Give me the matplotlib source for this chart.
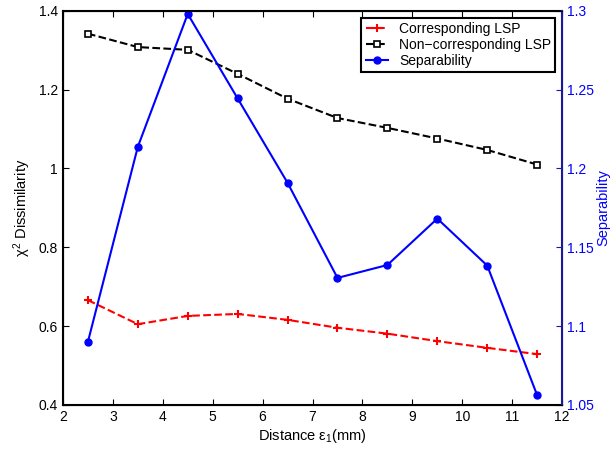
import matplotlib
matplotlib.use("Agg")
from matplotlib import pyplot

pyplot.rcParams['font.family'] = ['Liberation Sans', 'DejaVu Sans']
pyplot.rcParams['font.size'] = 10
pyplot.rcParams['mathtext.fontset'] = 'custom'
pyplot.rcParams['mathtext.rm'] = 'Liberation Sans'
pyplot.rcParams['mathtext.it'] = 'Liberation Sans'

distance = [2.5, 3.5, 4.5, 5.5, 6.5, 7.5, 8.5, 9.5, 10.5, 11.5]
corresponding = [0.666, 0.605, 0.626, 0.631, 0.616, 0.596, 0.581, 0.562, 0.545, 0.529]
non_corresponding = [1.342, 1.308, 1.301, 1.240, 1.177, 1.128, 1.103, 1.076, 1.047, 1.010]
separability = [1.090, 1.2137, 1.298, 1.2444, 1.1909, 1.1306, 1.1388, 1.1682, 1.1384, 1.0562]

AXIS_BLUE = '#1a1a9a'

fig = pyplot.figure(figsize=(6.11, 4.5), dpi=100)
ax1 = fig.add_axes([0.103, 0.1, 0.817, 0.876])
ax2 = ax1.twinx()

l1, = ax1.plot(distance, corresponding, '--', color='red', marker='+', ms=6, mew=1.5, lw=1.5,
               label='Corresponding LSP')
l2, = ax1.plot(distance, non_corresponding, '--', color='black', marker='s', ms=4.5, mew=1.2,
               mfc='white', lw=1.5, label='Non\u2212corresponding LSP')
l3, = ax2.plot(distance, separability, '-', color='blue', marker='o', ms=5, lw=1.5,
               label='Separability')

ax1.set_xlim(2, 12)
ax1.set_ylim(0.4, 1.4)
ax1.set_xticks(range(2, 13))
ax1.set_yticks([0.4, 0.6, 0.8, 1.0, 1.2, 1.4])
ax1.set_yticklabels(['0.4', '0.6', '0.8', '1', '1.2', '1.4'])
ax1.set_xlabel(r'Distance $\epsilon_1$(mm)', fontsize=10.5, labelpad=2)
ax1.set_ylabel(r'$\chi^2$ Dissimilarity', fontsize=10.5, labelpad=4)
ax1.tick_params(direction='in', top=True, right=False, length=4, width=0.8)

ax2.set_ylim(1.05, 1.3)
ax2.set_yticks([1.05, 1.1, 1.15, 1.2, 1.25, 1.3])
ax2.set_yticklabels(['1.05', '1.1', '1.15', '1.2', '1.25', '1.3'])
ax2.set_ylabel('Separability', color='blue', fontsize=10.5, labelpad=2)
ax2.tick_params(axis='y', direction='in', length=4, width=0.8, colors=AXIS_BLUE, labelcolor='blue')
ax2.spines['right'].set_color(AXIS_BLUE)
ax2.spines['right'].set_linewidth(1.5)
for side in ['left', 'top', 'bottom']:
    ax1.spines[side].set_linewidth(1.5)

leg = ax2.legend(handles=[l1, l2, l3], loc='upper right', fancybox=False, framealpha=1,
                 edgecolor='black', borderpad=0.3, labelspacing=0.15, handlelength=1.6,
                 borderaxespad=0.5)
leg.get_frame().set_linewidth(1.5)

fig.savefig('out.png', dpi=100)
